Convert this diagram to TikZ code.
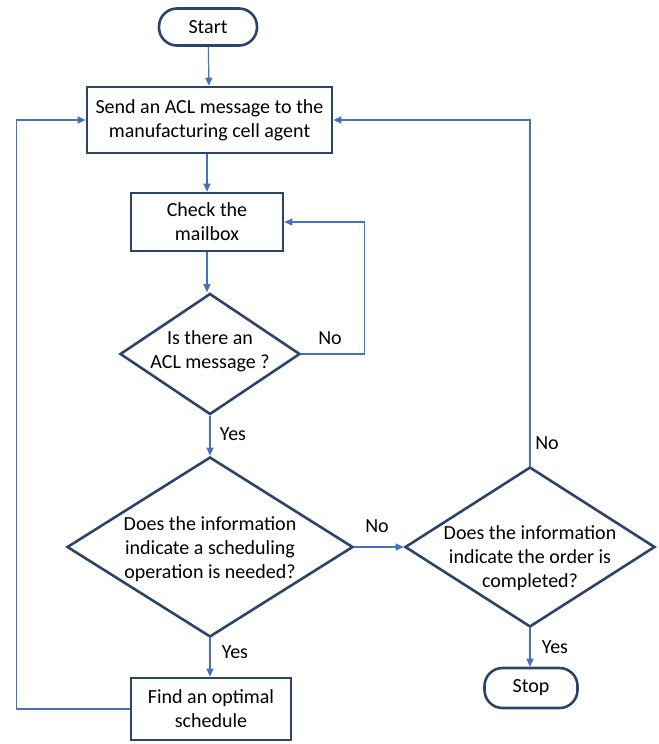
\documentclass[tikz,border=0pt]{standalone}
\usepackage{fontspec}
\setmainfont{Carlito}
\usetikzlibrary{shapes.geometric,arrows.meta}
\definecolor{boxc}{RGB}{44,68,106}
\definecolor{linec}{RGB}{68,114,190}
\tikzset{
  stepbox/.style={draw=boxc,line width=2.6bp,rectangle,align=center,inner sep=0pt},
  term/.style={draw=boxc,line width=2.6bp,rectangle,rounded corners=18bp,inner sep=0pt},
  decision/.style={draw=boxc,line width=2.6bp,diamond,inner sep=0pt},
  conn/.style={draw=linec,line width=1.2bp,-{Triangle[length=8bp,width=7bp]}},
  lbl/.style={inner sep=0pt}
}
\newcommand{\dtext}[2]{\smash{\raisebox{#1}{\makebox[0pt]{\begin{tabular}{@{}c@{}}#2\end{tabular}}}}}
\begin{document}
\begin{tikzpicture}[x=1bp,y=-1bp,font=\fontsize{20bp}{24bp}\selectfont]
\useasboundingbox (0,0) rectangle (659,744);
\node[term,minimum width=98bp,minimum height=37bp] (start) at (208,27) {Start};
\node[stepbox,minimum width=245bp,minimum height=66bp] (send) at (209.5,120) {Send an ACL message to the\\manufacturing cell agent};
\node[stepbox,minimum width=152bp,minimum height=58bp] (check) at (207,222) {Check the\\mailbox};
\node[decision,minimum width=180bp,minimum height=121bp] (d1) at (210,354) {\dtext{-3bp}{Is there an\\ACL message ?}};
\node[decision,minimum width=286bp,minimum height=180bp] (d2) at (210,547) {\dtext{-8bp}{Does the information\\indicate a scheduling\\operation is needed?}};
\node[decision,minimum width=250bp,minimum height=160bp] (d3) at (530,547) {\dtext{-17bp}{Does the information\\indicate the order is\\completed?}};
\node[stepbox,minimum width=160bp,minimum height=62bp] (find) at (211,709) {Find an optimal\\schedule};
\node[term,minimum width=93bp,minimum height=40bp] (stop) at (531,688) {Stop};

\draw[conn] (start) -- (send);
\draw[conn] (send.south -| check.north) -- (check);
\draw[conn] (check.south) -- (check.south |- d1.north);
\draw[conn] (d1.east) -- ++(63bp,0) |- (check.east);
\draw[conn] (d1) -- (d2);
\draw[conn] (d2) -- (d3);
\draw[conn] (d2) -- (d2.south |- find.north);
\draw[conn] (d3) -- (d3.south |- stop.north);
\draw[conn] (d3.north) |- (send.east);
\draw[conn] (find.west) -- ++(-113bp,0) |- (send.west);

\node[lbl] at (330,338) {No};
\node[lbl] at (233,434) {Yes};
\node[lbl] at (377,526) {No};
\node[lbl] at (547,443) {No};
\node[lbl] at (555,647) {Yes};
\node[lbl] at (235,652) {Yes};
\end{tikzpicture}
\end{document}
